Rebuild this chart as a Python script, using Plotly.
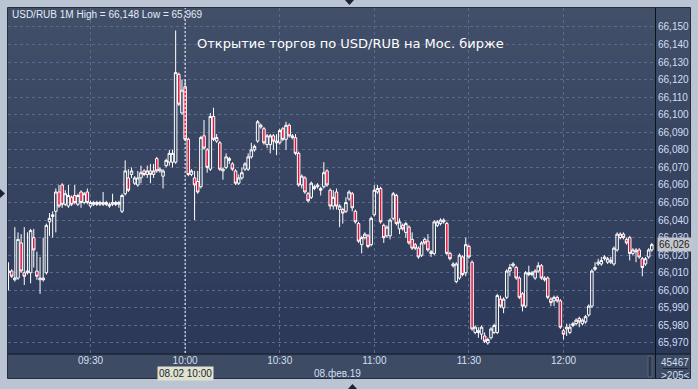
import pandas as pd
import plotly.graph_objects as go

# ---- data: USD/RUB, 1-minute bars, 08 Feb 2019 ----
session_day = "2019-02-08"
first_bar = "2019-02-08 09:04"
session_open = "2019-02-08 10:00"   # start of trading on the Moscow exchange

open_px = [
    66.010, 66.011, 66.006, 66.007, 66.027, 66.010, 66.010, 66.010, 66.030, 66.011,
    66.006, 66.007, 66.010, 66.039, 66.042, 66.045, 66.056, 66.060, 66.049, 66.048,
    66.053, 66.054, 66.049, 66.056, 66.050, 66.056, 66.048, 66.049, 66.050, 66.049,
    66.049, 66.050, 66.049, 66.049, 66.050, 66.049, 66.045, 66.055, 66.064, 66.066,
    66.061, 66.060, 66.064, 66.068, 66.066, 66.068, 66.066, 66.075, 66.068, 66.065,
    66.071, 66.073, 66.073, 66.073, 66.123, 66.101, 66.116, 66.086, 66.066, 66.064,
    66.062, 66.059, 66.088, 66.080, 66.069, 66.099, 66.085, 66.084, 66.068, 66.070,
    66.074, 66.072, 66.068, 66.061, 66.064, 66.069, 66.069, 66.076, 66.080, 66.085,
    66.093, 66.092, 66.083, 66.083, 66.088, 66.084, 66.084, 66.092, 66.086, 66.094,
    66.087, 66.087, 66.078, 66.060, 66.064, 66.055, 66.053, 66.058, 66.059, 66.058,
    66.059, 66.068, 66.057, 66.048, 66.056, 66.046, 66.046, 66.045, 66.052, 66.055,
    66.045, 66.038, 66.026, 66.030, 66.031, 66.026, 66.043, 66.056, 66.058, 66.037,
    66.031, 66.031, 66.041, 66.054, 66.035, 66.037, 66.033, 66.036, 66.029, 66.026,
    66.024, 66.020, 66.029, 66.028, 66.022, 66.021, 66.037, 66.038, 66.040, 66.038,
    66.021, 66.015, 66.005, 66.007, 66.019, 66.010, 66.025, 66.016, 65.976, 65.976,
    65.975, 65.974, 65.970, 65.973, 65.976, 65.976, 65.995, 65.990, 65.996, 66.011,
    66.014, 66.013, 66.007, 65.998, 65.991, 66.009, 66.010, 66.007, 66.011, 66.014,
    66.007, 66.007, 65.995, 65.994, 65.996, 65.994, 65.977, 65.978, 65.976, 65.980,
    65.981, 65.984, 65.981, 65.982, 65.986, 65.991, 66.012, 66.015, 66.015, 66.019,
    66.016, 66.016, 66.015, 66.023, 66.030, 66.032, 66.029, 66.030, 66.021, 66.023,
    66.023, 66.018, 66.015, 66.019, 66.023,
]
high_px = [
    66.016, 66.012, 66.036, 66.033, 66.032, 66.036, 66.033, 66.035, 66.035, 66.022,
    66.019, 66.030, 66.038, 66.044, 66.045, 66.058, 66.060, 66.061, 66.057, 66.060,
    66.054, 66.060, 66.055, 66.057, 66.056, 66.058, 66.051, 66.051, 66.051, 66.051,
    66.056, 66.051, 66.050, 66.055, 66.051, 66.051, 66.055, 66.074, 66.069, 66.070,
    66.065, 66.068, 66.071, 66.069, 66.071, 66.072, 66.072, 66.076, 66.070, 66.069,
    66.075, 66.080, 66.080, 66.148, 66.124, 66.120, 66.120, 66.087, 66.069, 66.068,
    66.068, 66.088, 66.097, 66.081, 66.101, 66.104, 66.089, 66.085, 66.070, 66.078,
    66.076, 66.073, 66.069, 66.066, 66.070, 66.073, 66.078, 66.084, 66.083, 66.097,
    66.095, 66.093, 66.089, 66.089, 66.089, 66.089, 66.092, 66.093, 66.096, 66.095,
    66.089, 66.089, 66.079, 66.066, 66.065, 66.056, 66.062, 66.060, 66.061, 66.059,
    66.073, 66.069, 66.058, 66.057, 66.058, 66.049, 66.047, 66.053, 66.057, 66.056,
    66.046, 66.039, 66.031, 66.033, 66.032, 66.042, 66.060, 66.060, 66.059, 66.038,
    66.037, 66.041, 66.056, 66.055, 66.041, 66.038, 66.039, 66.037, 66.033, 66.027,
    66.025, 66.028, 66.030, 66.032, 66.023, 66.040, 66.040, 66.041, 66.041, 66.039,
    66.022, 66.016, 66.016, 66.021, 66.020, 66.030, 66.026, 66.017, 65.980, 65.979,
    65.980, 65.976, 65.973, 65.979, 65.981, 65.998, 65.997, 65.996, 66.012, 66.015,
    66.016, 66.014, 66.008, 65.999, 66.011, 66.014, 66.011, 66.012, 66.016, 66.015,
    66.008, 66.008, 65.996, 65.997, 65.997, 65.995, 65.978, 65.981, 65.981, 65.982,
    65.984, 65.985, 65.984, 65.986, 65.992, 66.012, 66.016, 66.018, 66.019, 66.020,
    66.019, 66.019, 66.025, 66.033, 66.033, 66.033, 66.030, 66.031, 66.024, 66.024,
    66.024, 66.019, 66.019, 66.024, 66.027,
]
low_px = [
    66.000, 66.007, 66.005, 66.006, 66.010, 66.003, 66.009, 66.004, 66.013, 66.006,
    65.998, 66.005, 66.009, 66.031, 66.030, 66.033, 66.047, 66.047, 66.048, 66.047,
    66.048, 66.049, 66.048, 66.047, 66.049, 66.049, 66.047, 66.048, 66.048, 66.048,
    66.048, 66.048, 66.047, 66.048, 66.048, 66.047, 66.044, 66.054, 66.056, 66.064,
    66.060, 66.059, 66.061, 66.065, 66.064, 66.061, 66.064, 66.067, 66.067, 66.058,
    66.070, 66.071, 66.070, 66.072, 66.105, 66.100, 66.085, 66.065, 66.065, 66.040,
    66.055, 66.058, 66.080, 66.067, 66.068, 66.085, 66.084, 66.068, 66.063, 66.069,
    66.072, 66.068, 66.060, 66.060, 66.063, 66.068, 66.068, 66.075, 66.079, 66.084,
    66.092, 66.083, 66.081, 66.078, 66.080, 66.077, 66.083, 66.085, 66.080, 66.087,
    66.086, 66.077, 66.059, 66.058, 66.055, 66.050, 66.052, 66.057, 66.058, 66.054,
    66.058, 66.059, 66.046, 66.046, 66.046, 66.036, 66.038, 66.044, 66.051, 66.045,
    66.038, 66.027, 66.021, 66.029, 66.024, 66.025, 66.042, 66.055, 66.038, 66.027,
    66.030, 66.029, 66.040, 66.037, 66.032, 66.034, 66.030, 66.026, 66.023, 66.023,
    66.018, 66.019, 66.026, 66.022, 66.019, 66.020, 66.036, 66.037, 66.038, 66.020,
    66.017, 66.013, 66.004, 66.006, 66.008, 66.008, 66.018, 65.977, 65.975, 65.973,
    65.972, 65.970, 65.969, 65.972, 65.975, 65.975, 65.990, 65.987, 65.995, 66.008,
    66.013, 66.006, 65.995, 65.988, 65.990, 66.008, 66.008, 66.006, 66.010, 66.006,
    66.005, 65.995, 65.991, 65.991, 65.993, 65.978, 65.972, 65.974, 65.975, 65.979,
    65.980, 65.979, 65.980, 65.981, 65.985, 65.990, 66.011, 66.014, 66.014, 66.017,
    66.015, 66.015, 66.014, 66.022, 66.029, 66.029, 66.026, 66.017, 66.020, 66.016,
    66.018, 66.008, 66.014, 66.018, 66.022,
]
close_px = [
    66.011, 66.008, 66.007, 66.029, 66.011, 66.008, 66.011, 66.034, 66.023, 66.008,
    66.007, 66.006, 66.037, 66.041, 66.043, 66.056, 66.048, 66.049, 66.055, 66.054,
    66.049, 66.050, 66.054, 66.050, 66.055, 66.050, 66.050, 66.050, 66.049, 66.050,
    66.050, 66.049, 66.048, 66.050, 66.049, 66.050, 66.054, 66.068, 66.057, 66.068,
    66.064, 66.064, 66.067, 66.066, 66.068, 66.066, 66.068, 66.068, 66.069, 66.068,
    66.074, 66.078, 66.078, 66.124, 66.106, 66.114, 66.086, 66.066, 66.068, 66.060,
    66.056, 66.087, 66.081, 66.070, 66.099, 66.086, 66.087, 66.069, 66.069, 66.076,
    66.075, 66.069, 66.061, 66.064, 66.067, 66.072, 66.076, 66.080, 66.082, 66.096,
    66.094, 66.084, 66.088, 66.088, 66.085, 66.085, 66.091, 66.086, 66.094, 66.088,
    66.088, 66.078, 66.060, 66.065, 66.056, 66.051, 66.061, 66.059, 66.060, 66.057,
    66.067, 66.060, 66.048, 66.053, 66.048, 66.048, 66.044, 66.050, 66.056, 66.047,
    66.039, 66.028, 66.030, 66.032, 66.025, 66.041, 66.057, 66.058, 66.039, 66.030,
    66.036, 66.040, 66.055, 66.038, 66.039, 66.035, 66.038, 66.027, 66.024, 66.024,
    66.019, 66.027, 66.027, 66.023, 66.021, 66.039, 66.039, 66.040, 66.039, 66.021,
    66.018, 66.014, 66.015, 66.020, 66.009, 66.026, 66.019, 65.978, 65.979, 65.977,
    65.979, 65.971, 65.972, 65.978, 65.980, 65.997, 65.991, 65.995, 66.011, 66.013,
    66.015, 66.007, 65.996, 65.991, 66.010, 66.010, 66.009, 66.011, 66.014, 66.007,
    66.006, 65.996, 65.993, 65.996, 65.994, 65.979, 65.975, 65.979, 65.979, 65.981,
    65.983, 65.982, 65.983, 65.985, 65.991, 66.011, 66.013, 66.016, 66.017, 66.018,
    66.018, 66.017, 66.024, 66.032, 66.032, 66.030, 66.027, 66.021, 66.023, 66.022,
    66.019, 66.013, 66.018, 66.023, 66.026,
]

price_ticks = [65.97, 65.98, 65.99, 66.00, 66.01, 66.02, 66.03, 66.04, 66.05, 66.06,
               66.07, 66.08, 66.09, 66.10, 66.11, 66.12, 66.13, 66.14, 66.15]
time_ticks = ["09:30", "10:00", "10:30", "11:00", "11:30", "12:00"]

chart_title = "USD/RUB 1M"
event_note = "Открытие торгов по USD/RUB на Мос. бирже"
date_label = "08.фев.19"
cursor_label = "08.02 10:00"
volume_text = "45467"
bars_text = ">205<"

# ---- geometry / styling ----
W, H = 698, 389
PX_L, PX_R, PX_T, PX_B = 8, 655, 8, 353      # price pane in pixels
FRAME_R, FRAME_B = 690, 378                   # outer chart frame


def fx(px):
    return px / W


def fy(py):
    return 1 - py / H


def rub(v):
    return f"{v:.3f}".replace(".", ",")


times = pd.date_range(first_bar, periods=len(close_px), freq="min")
tick_times = [f"{session_day} {t}" for t in time_ticks]

fig = go.Figure(go.Candlestick(
    x=times, open=open_px, high=high_px, low=low_px, close=close_px,
    increasing=dict(line=dict(color="#ffffff", width=1), fillcolor="rgba(0,0,0,0)"),
    decreasing=dict(line=dict(color="#ffffff", width=1), fillcolor="#e0143c"),
    whiskerwidth=0, hoverinfo="skip", showlegend=False,
))

shapes = []
# frame and panels
shapes.append(dict(type="rect", xref="paper", yref="paper", layer="below",
                   x0=fx(PX_L), x1=fx(FRAME_R), y0=fy(FRAME_B), y1=fy(PX_T),
                   fillcolor="#3d4b65", line=dict(width=0)))
# vertical gradient behind price pane and right scale
top_rgb, bot_rgb = (66, 79, 105), (43, 56, 88)
n_bands = 30
for i in range(n_bands):
    t = i / (n_bands - 1)
    c = tuple(round(a + (b - a) * t) for a, b in zip(top_rgb, bot_rgb))
    y0 = PX_T + (PX_B - PX_T) * i / n_bands
    y1 = PX_T + (PX_B - PX_T) * (i + 1) / n_bands
    shapes.append(dict(type="rect", xref="paper", yref="paper", layer="below",
                       x0=fx(PX_L), x1=fx(FRAME_R), y0=fy(y1 + 0.5), y1=fy(y0),
                       fillcolor=f"rgb{c}", line=dict(width=0)))

# separators
shapes.append(dict(type="line", xref="paper", yref="paper",
                   x0=fx(PX_R + 0.5), x1=fx(PX_R + 0.5), y0=fy(PX_T), y1=fy(FRAME_B),
                   line=dict(color="#0e121a", width=1)))
shapes.append(dict(type="line", xref="paper", yref="paper",
                   x0=fx(PX_L), x1=fx(FRAME_R), y0=fy(PX_B + 1), y1=fy(PX_B + 1),
                   line=dict(color="#0e121a", width=1)))
shapes.append(dict(type="rect", xref="paper", yref="paper",
                   x0=fx(PX_L - 0.5), x1=fx(FRAME_R + 0.5), y0=fy(FRAME_B + 0.5), y1=fy(PX_T - 0.5),
                   line=dict(color="#262d3b", width=1)))
# scroll thumb in the time strip
shapes.append(dict(type="rect", xref="paper", yref="paper",
                   x0=fx(648), x1=fx(652), y0=fy(377), y1=fy(356),
                   fillcolor="#2c384e", line=dict(color="#56637b", width=1)))
# divider under the volume figure
shapes.append(dict(type="line", xref="paper", yref="paper",
                   x0=fx(663), x1=fx(688), y0=fy(368.5), y1=fy(368.5),
                   line=dict(color="#1f2738", width=1)))
# session-open marker
shapes.append(dict(type="line", xref="x", yref="paper",
                   x0=session_open, x1=session_open, y0=fy(PX_B), y1=fy(PX_T),
                   line=dict(color="#ffffff", width=1, dash="2px,2px")))
# small navigation arrows on the outer border
arrow = "#1b2131"
shapes.append(dict(type="path", xref="paper", yref="paper", fillcolor=arrow, line=dict(width=0),
                   path=f"M {fx(345)},{fy(0)} L {fx(354)},{fy(0)} L {fx(349.5)},{fy(5)} Z"))
shapes.append(dict(type="path", xref="paper", yref="paper", fillcolor=arrow, line=dict(width=0),
                   path=f"M {fx(348)},{fy(389)} L {fx(357)},{fy(389)} L {fx(352.5)},{fy(384)} Z"))
shapes.append(dict(type="path", xref="paper", yref="paper", fillcolor=arrow, line=dict(width=0),
                   path=f"M {fx(0)},{fy(189)} L {fx(0)},{fy(198)} L {fx(5)},{fy(193.5)} Z"))

label_font = dict(family="Liberation Sans, Arial, sans-serif", size=10, color="#d3dff0")

annotations = [
    dict(xref="paper", yref="paper", x=fx(10), y=fy(14.5), xanchor="left", yanchor="middle",
         text=f"{chart_title} High = {rub(max(high_px))} Low = {rub(min(low_px))}",
         showarrow=False, font=dict(family="Liberation Sans, Arial, sans-serif", size=10,
                                    color="#e4ebf5")),
    dict(xref="paper", yref="paper", x=fx(195), y=fy(43.5), xanchor="left", yanchor="middle",
         text=event_note, showarrow=False,
         font=dict(family="DejaVu Sans, sans-serif", size=13, color="#ffffff")),
    dict(xref="paper", yref="paper", x=fx(312), y=fy(373.5), xanchor="left", yanchor="middle",
         text=date_label, showarrow=False, font=label_font),
    dict(xref="x", yref="paper", x=session_open, y=fy(373), xanchor="center", yanchor="middle",
         text=cursor_label, showarrow=False, bgcolor="#dfe2cd", borderpad=1,
         font=dict(family="Liberation Sans, Arial, sans-serif", size=10, color="#1c2535")),
    dict(xref="paper", yref="paper", x=fx(675), y=fy(362.5), xanchor="center", yanchor="middle",
         text=volume_text, showarrow=False, font=label_font),
    dict(xref="paper", yref="paper", x=fx(675), y=fy(375), xanchor="center", yanchor="middle",
         text=bars_text, showarrow=False, font=label_font),
    dict(xref="paper", yref="y", x=fx(657), y=close_px[-1], xanchor="left", yanchor="middle",
         text=rub(close_px[-1]), showarrow=False, bgcolor="#c3c7cd", borderpad=1,
         font=dict(family="Liberation Sans, Arial, sans-serif", size=10, color="#1a1d24")),
]

grid_style = dict(showgrid=True, gridcolor="#5a6a8a", gridwidth=1, griddash="3px,3px",
                  zeroline=False, showline=False, ticks="", tickfont=label_font)

fig.update_layout(
    width=W, height=H, margin=dict(l=0, r=0, t=0, b=0, pad=0),
    paper_bgcolor="#bac4d2", plot_bgcolor="rgba(0,0,0,0)",
    separators=",.", boxgap=0.2, boxgroupgap=0, showlegend=False,
    shapes=shapes, annotations=annotations,
    xaxis=dict(domain=[fx(PX_L), fx(PX_R)], type="date",
               range=["2019-02-08 09:03:50", "2019-02-08 12:29:01"],
               tickvals=tick_times, ticktext=time_ticks,
               rangeslider=dict(visible=False), **grid_style),
    yaxis=dict(domain=[fy(PX_B), fy(PX_T)], side="right", range=[65.9643, 66.1608],
               tickvals=price_ticks, ticktext=[rub(v) for v in price_ticks],
               ticklabelstandoff=2, **grid_style),
)

fig.write_html("out.html")
